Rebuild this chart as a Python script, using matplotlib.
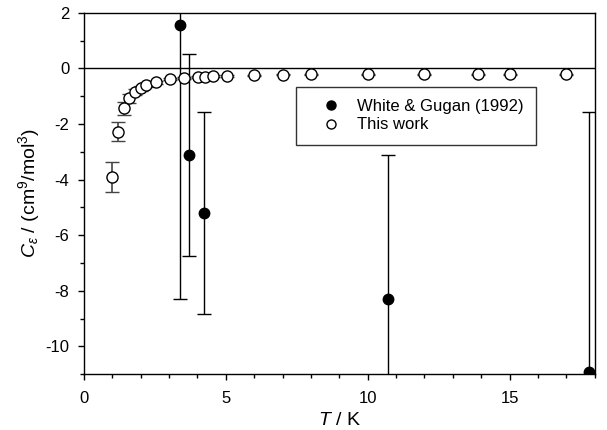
import matplotlib
matplotlib.use("Agg")
import matplotlib.pyplot as plt
from matplotlib.ticker import MultipleLocator
from matplotlib.lines import Line2D

plt.rcParams['font.family'] = ['Liberation Sans', 'DejaVu Sans']
plt.rcParams['mathtext.fontset'] = 'custom'
plt.rcParams['mathtext.rm'] = 'Liberation Sans'
plt.rcParams['mathtext.it'] = 'Liberation Sans:italic'
plt.rcParams['mathtext.bf'] = 'Liberation Sans:bold'
plt.rcParams['axes.unicode_minus'] = False

# White & Gugan (1992)
wg_T = [3.38, 3.71, 4.24, 10.7, 17.8]
wg_C = [1.55, -3.11, -5.19, -8.30, -10.92]
wg_err = [9.85, 3.63, 3.64, 5.18, 9.37]

# This work
tw_T = [1.00, 1.22, 1.41, 1.61, 1.81, 2.00, 2.20, 2.53, 3.02, 3.53, 4.02, 4.26,
        4.55, 5.04, 6.0, 7.0, 8.0, 10.0, 12.0, 13.9, 15.0, 17.0]
tw_C = [-3.90, -2.27, -1.44, -1.08, -0.84, -0.72, -0.60, -0.50, -0.39, -0.35,
        -0.30, -0.29, -0.28, -0.27, -0.24, -0.22, -0.21, -0.21, -0.21, -0.21,
        -0.21, -0.21]
tw_err = [0.54, 0.35, 0.23, 0.15, 0.10, 0.08, 0.06, 0.05, 0.04, 0.03,
          0.03, 0.03, 0.03, 0.02, 0.02, 0.02, 0.02, 0.02, 0.02, 0.02,
          0.02, 0.02]

labels = ['White & Gugan (1992)', 'This work']

fig = plt.figure(figsize=(6.07, 4.30), dpi=100)
ax = fig.add_axes([0.138, 0.130, 0.842, 0.840])

ax.axhline(0, color='black', lw=1.0, zorder=1)

ax.errorbar(wg_T, wg_C, yerr=wg_err, fmt='o', ms=7.5,
            mfc='black', mec='black', ecolor='black', elinewidth=1.0,
            capsize=5, capthick=1.0, zorder=3)
ax.errorbar(tw_T, tw_C, yerr=tw_err, fmt='o', ms=8,
            mfc='white', mec='black', mew=1.0, ecolor='#444444', elinewidth=1.2,
            capsize=5, capthick=1.2, zorder=4)

ax.set_xlim(0, 18)
ax.set_ylim(-11, 2)
ax.xaxis.set_major_locator(MultipleLocator(5))
ax.xaxis.set_minor_locator(MultipleLocator(1))
ax.yaxis.set_major_locator(MultipleLocator(2))
ax.yaxis.set_minor_locator(MultipleLocator(1))
ax.tick_params(which='both', direction='out', top=False, right=False,
               labelsize=12, width=1.0)
ax.tick_params(which='major', length=4.5)
ax.tick_params(which='minor', length=3)
ax.tick_params(axis='x', which='major', pad=8)
ax.tick_params(axis='y', which='major', pad=6)
for s in ax.spines.values():
    s.set_linewidth(1.0)

ax.set_xlabel(r'$T$ / K', fontsize=14, labelpad=4)
ax.set_ylabel(r'$C_{\varepsilon}$ / (cm$^9$/mol$^3$)', fontsize=14, labelpad=2)

handles = [
    Line2D([], [], ls='none', marker='o', ms=6.5, mfc='black', mec='black'),
    Line2D([], [], ls='none', marker='o', ms=6.5, mfc='white', mec='black', mew=1.0),
]
leg = ax.legend(handles, labels, loc='upper left', bbox_to_anchor=(0.416, 0.796),
                borderaxespad=0, fontsize=12, frameon=True, fancybox=False,
                edgecolor='black', handletextpad=0.3, labelspacing=0.2,
                borderpad=0.75, handlelength=2.6)
leg.get_frame().set_linewidth(1.0)

fig.savefig('out.png', dpi=100)
